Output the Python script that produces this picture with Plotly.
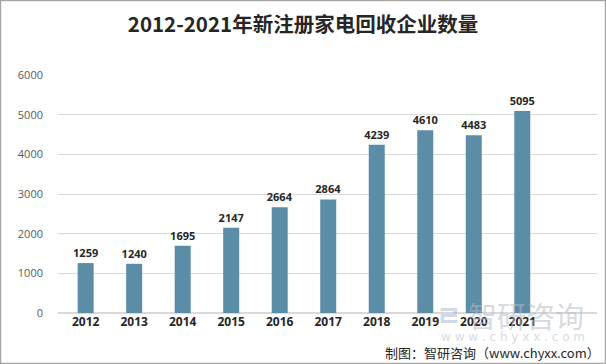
import plotly.graph_objects as go

years = ["2012", "2013", "2014", "2015", "2016", "2017", "2018", "2019", "2020", "2021"]
counts = [1259, 1240, 1695, 2147, 2664, 2864, 4239, 4610, 4483, 5095]
y_ticks = [0, 1000, 2000, 3000, 4000, 5000, 6000]

W, H = 606, 364
L, R, T, B = 58, 9, 75, 51
pw, ph = W - L - R, H - T - B

fig = go.Figure()
fig.add_trace(go.Bar(
    x=years, y=counts,
    marker=dict(color="#5b8ea6", line=dict(width=0)),
    text=[str(v) for v in counts],
    textposition="outside",
    constraintext="none",
    textfont=dict(family="Open Sans, DejaVu Sans, sans-serif", size=11, color="#262626"),
    texttemplate="<b>%{text}</b>",
    cliponaxis=False,
))

fig.update_layout(
    width=W, height=H,
    margin=dict(l=L, r=R, t=T, b=B),
    paper_bgcolor="white", plot_bgcolor="white",
    bargap=0.67,
    showlegend=False,
    title=dict(
        text="<b>2012-2021年新注册家电回收企业数量</b>",
        x=0.5, xanchor="center", y=1 - 25 / H, yanchor="middle",
        font=dict(family="Noto Sans CJK SC, sans-serif", size=20.5, color="#262626"),
    ),
    xaxis=dict(
        type="category",
        range=[-0.57, 10.54],
        showgrid=False, showline=False, zeroline=False,
        ticks="",
        tickfont=dict(family="Open Sans, DejaVu Sans, sans-serif", size=12, color="#262626", weight="bold"),
    ),
    yaxis=dict(
        range=[0, 6000],
        tickvals=y_ticks,
        showgrid=True, gridcolor="#d9d9d9", gridwidth=1,
        zeroline=True, zerolinecolor="#d9d9d9",
        showline=False, ticks="",
        ticklabelstandoff=14,
        tickfont=dict(family="Open Sans, DejaVu Sans, sans-serif", size=11, color="#595959"),
    ),
)

# watermark
fig.add_annotation(
    xref="paper", yref="paper",
    x=(526 - L) / pw, y=1 - (315 - T) / ph,
    text="智研咨询", showarrow=False,
    font=dict(family="Noto Sans CJK SC, sans-serif", size=29, color="rgba(180,186,196,0.55)"),
    xanchor="center", yanchor="middle",
)
fig.add_annotation(
    xref="paper", yref="paper",
    x=(449 - L) / pw, y=1 - (315 - T) / ph,
    text="<b>ㄹ</b>", showarrow=False,
    font=dict(family="Noto Sans CJK SC, sans-serif", size=28, color="rgba(150,170,200,0.45)"),
    xanchor="center", yanchor="middle",
)
fig.add_annotation(
    xref="paper", yref="paper",
    x=(513 - L) / pw, y=1 - (337 - T) / ph,
    text="w w w . c h y x x . c o m", showarrow=False,
    font=dict(family="DejaVu Sans, sans-serif", size=12, color="rgba(180,186,196,0.55)"),
    xanchor="center", yanchor="middle",
)
# footer
fig.add_annotation(
    xref="paper", yref="paper",
    x=(602 - L) / pw, y=1 - (352 - T) / ph,
    text="制图：智研咨询（www.chyxx.com）", showarrow=False,
    font=dict(family="Noto Sans CJK SC, sans-serif", size=13, color="#262626"),
    xanchor="right", yanchor="middle",
)
# border
fig.add_shape(
    type="rect", xref="paper", yref="paper",
    x0=(0.5 - L) / pw, x1=(W - 0.5 - L) / pw,
    y0=1 - (H - 0.5 - T) / ph, y1=1 - (0.5 - T) / ph,
    line=dict(color="#a6a6a6", width=1.5), fillcolor="rgba(0,0,0,0)",
)

fig.write_html(
    "out.html",
    config={"displayModeBar": False},
    post_script="document.body.style.margin='0';document.body.style.overflow='hidden';",
)
